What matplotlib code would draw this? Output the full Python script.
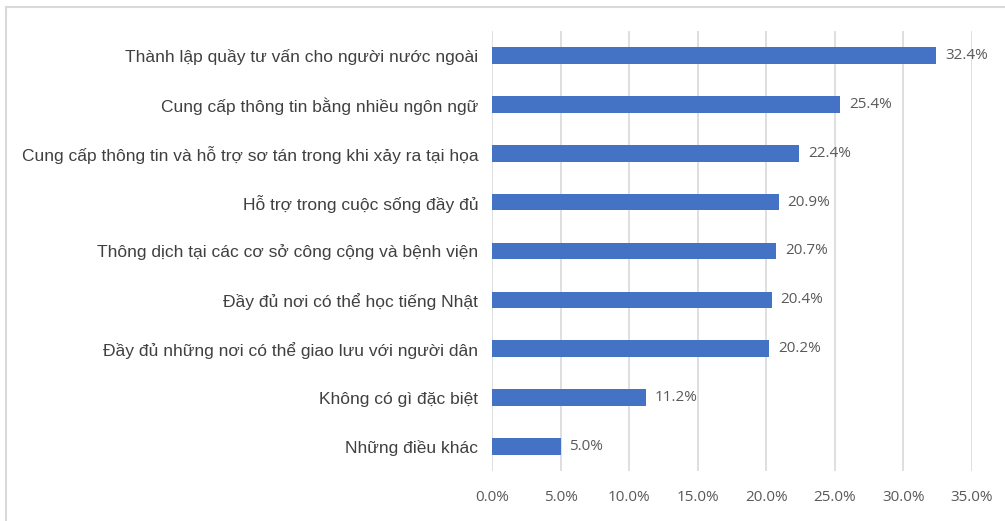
import matplotlib.pyplot as plt
from matplotlib.lines import Line2D
from matplotlib.ticker import FuncFormatter

categories = [
    "Thành lập quầy tư vấn cho người nước ngoài",
    "Cung cấp thông tin bằng nhiều ngôn ngữ",
    "Cung cấp thông tin và hỗ trợ sơ tán trong khi xảy ra tại họa",
    "Hỗ trợ trong cuộc sống đầy đủ",
    "Thông dịch tại các cơ sở công cộng và bệnh viện",
    "Đầy đủ nơi có thể học tiếng Nhật",
    "Đầy đủ những nơi có thể giao lưu với người dân",
    "Không có gì đặc biệt",
    "Những điều khác",
]
values = [32.4, 25.4, 22.4, 20.9, 20.7, 20.4, 20.2, 11.2, 5.0]
x_ticks = [0, 5, 10, 15, 20, 25, 30, 35]

BAR_COLOR = "#4472C4"
GRID_COLOR = "#D9D9D9"
TEXT_COLOR = "#404040"
TICK_COLOR = "#595959"

fig = plt.figure(figsize=(10.05, 5.21), dpi=100)
ax = fig.add_axes([0.4896, 0.096, 0.4776, 0.8445])

ypos = list(range(len(categories)))[::-1]
ax.barh(ypos, values, height=0.34, color=BAR_COLOR, zorder=3)

for y, v in zip(ypos, values):
    ax.text(v + 0.65, y, f"{v:.1f}%", va="center", ha="left",
            fontsize=11, color=TICK_COLOR, family="Open Sans")

ax.set_xlim(0, 35)
ax.set_ylim(-0.5, len(categories) - 0.5)
ax.set_xticks(x_ticks)
ax.xaxis.set_major_formatter(FuncFormatter(lambda x, p: f"{x:.1f}%"))
ax.set_yticks(ypos)
ax.set_yticklabels(categories, fontsize=12.5, color=TEXT_COLOR,
                   family="Liberation Sans")
for lab in ax.get_xticklabels():
    lab.set_family("Open Sans")
    lab.set_fontsize(11)
    lab.set_color(TICK_COLOR)

ax.tick_params(axis="both", length=0)
ax.tick_params(axis="y", pad=10)
ax.tick_params(axis="x", pad=14)
ax.grid(axis="x", color=GRID_COLOR, linewidth=1.2, zorder=0)
for s in ax.spines.values():
    s.set_visible(False)

# light frame around the chart (top and left edges only)
fig.add_artist(Line2D([5.5 / 1005, 1], [1 - 7 / 521, 1 - 7 / 521],
                      color=GRID_COLOR, linewidth=1.5, transform=fig.transFigure))
fig.add_artist(Line2D([5.5 / 1005, 5.5 / 1005], [0, 1 - 7 / 521],
                      color=GRID_COLOR, linewidth=1.5, transform=fig.transFigure))

plt.savefig("out.png", dpi=100)
